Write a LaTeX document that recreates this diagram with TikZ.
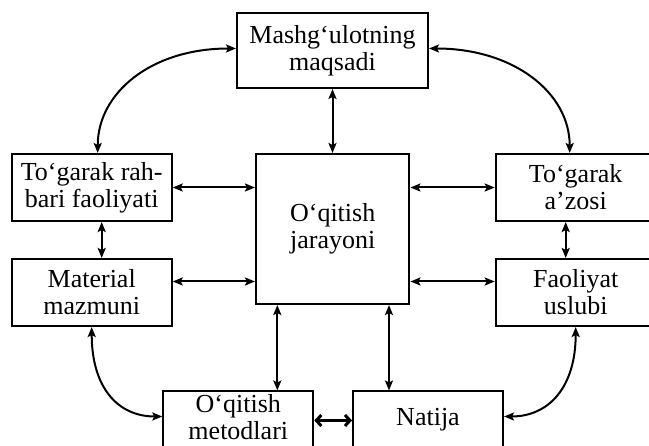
\documentclass[tikz,border=0pt]{standalone}
\usepackage{fontspec}
\setmainfont{Liberation Serif}
\usetikzlibrary{arrows.meta, positioning}

\begin{document}
\begin{tikzpicture}[
  x=1pt, y=-1pt,
  >={Stealth[length=10pt, width=8pt, inset=2pt]},
  block/.style={draw, line width=2pt, align=center, inner sep=0pt,
    font=\fontsize{26}{27}\selectfont},
  side/.style={block, minimum width=160pt, minimum height=67pt},
  bottom/.style={block, minimum width=150pt, minimum height=60pt, text depth=9pt},
  link/.style={<->, line width=2pt}
]
  \path[use as bounding box, clip] (0,0) rectangle (649,446);

  % boxes
  \node[block, minimum width=191pt, minimum height=75pt] (goal) at (332.5,50.5) {Mashg‘ulotning\\maqsadi};
  \node[block, minimum width=153.5pt, minimum height=150pt] (process) at (332.7,229) {O‘qitish\\jarayoni};
  \node[side] (leader)   at (91.7,187.5)  {To‘garak rah-\\bari faoliyati};
  \node[side] (material) at (91.7,292.5)  {Material\\mazmuni};
  \node[side] (member)   at (575.7,187.5) {To‘garak\\a’zosi};
  \node[side] (uslub)    at (575.7,292.5) {Faoliyat\\uslubi};
  \node[bottom] (methods) at (238.3,421.5) {O‘qitish\\metodlari};
  \node[bottom] (result)  at (428,421.5)   {Natija};

  % straight links
  \draw[link] (goal.south) -- (goal.south |- process.north);
  \draw[link] (leader.east) -- (leader.east -| process.west);
  \draw[link] (member.west) -- (member.west -| process.east);
  \draw[link] ([xshift=10pt]leader.south) -- ([xshift=10pt]material.north);
  \draw[link] ([xshift=-10pt]member.south) -- ([xshift=-10pt]uslub.north);
  \draw[link] ([yshift=11pt]material.east) -- ([yshift=11pt]material.east -| process.west);
  \draw[link] ([yshift=11pt]uslub.west) -- ([yshift=11pt]uslub.west -| process.east);
  \draw[link] ([xshift=39pt]methods.north) -- ([xshift=39pt]methods.north |- process.south);
  \draw[link] ([xshift=-39pt]result.north) -- ([xshift=-39pt]result.north |- process.south);
  \draw[{Straight Barb[length=5pt, width=11pt]}-{Straight Barb[length=5pt, width=11pt]}, line width=3pt]
    ([yshift=1pt]methods.east) -- ([yshift=1pt]result.west);

  % curved links
  \draw[link] ([yshift=2pt]goal.west) .. controls +(-85,0) and +(0,-60) .. ([xshift=6pt]leader.north);
  \draw[link] ([yshift=2pt]goal.east) .. controls +(85,0) and +(0,-60) .. ([xshift=-6pt]member.north);
  \draw[link] (material.south) .. controls +(0,60) and +(-45,0) .. ([yshift=5pt]methods.west);
  \draw[link] (uslub.south) .. controls +(0,60) and +(45,0) .. ([yshift=5pt]result.east);
\end{tikzpicture}
\end{document}
